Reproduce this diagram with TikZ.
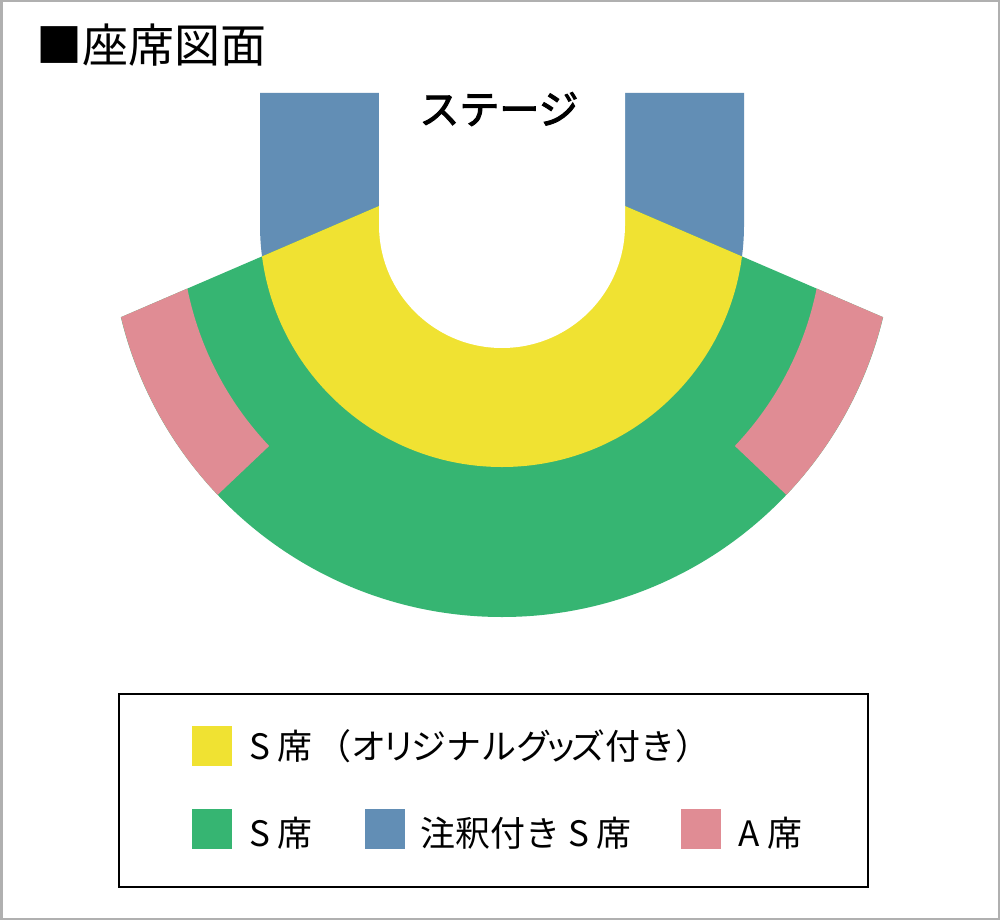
\documentclass[tikz,border=0pt]{standalone}
\usepackage{fontspec}
\setmainfont{Noto Sans CJK JP}
\newfontfamily\stagefont[FakeBold=2.5]{Noto Sans CJK JP}
\usetikzlibrary{calc}
\definecolor{seatY}{RGB}{240,226,50}
\definecolor{seatG}{RGB}{54,181,114}
\definecolor{seatB}{RGB}{98,142,181}
\definecolor{seatP}{RGB}{224,140,148}
\definecolor{frameGray}{RGB}{176,176,176}
\tikzset{
  legsq/.style={minimum width=40pt,minimum height=40pt,inner sep=0pt,outer sep=0pt,anchor=north west},
  legtxt/.style={anchor=base west,inner sep=0pt,font=\fontsize{35}{40}\selectfont},
}
\begin{document}
\begin{tikzpicture}[x=1pt,y=1pt]
\useasboundingbox (0,0) rectangle (1000,-920);
\fill[white] (0,0) rectangle (1000,-920);
\draw[frameGray,line width=2.5pt] (1.25,-1.25) rectangle (998.75,-918.75);
\coordinate (C) at (502,-225);
% blue (notes) seats: U-shaped outer outline
\fill[seatB] (260,-93) -- (260,-225) arc[start angle=180,end angle=360,radius=242pt] -- (744,-93) -- cycle;
\begin{scope}
  \clip (0,-369.3) -- (502,-153) -- (1000,-367.6) -- (1000,-920) -- (0,-920) -- cycle;
  \fill[seatG] (C) circle[radius=392pt];
  \fill[seatP] ($(C)+(160:321)$) arc[start angle=160,end angle=223.5,radius=321pt]
     -- ($(C)+(223.5:392)$) arc[start angle=223.5,end angle=160,radius=392pt] -- cycle;
  \fill[seatP] ($(C)+(20:321)$) arc[start angle=20,end angle=-43.5,radius=321pt]
     -- ($(C)+(-43.5:392)$) arc[start angle=-43.5,end angle=20,radius=392pt] -- cycle;
  \fill[seatY] (260,-93) -- (260,-225) arc[start angle=180,end angle=360,radius=242pt] -- (744,-93) -- cycle;
\end{scope}
% stage opening
\fill[white] (379,-80) -- (379,-225) arc[start angle=180,end angle=360,radius=123pt] -- (625,-80) -- cycle;
% texts
\node (title) [anchor=base west,inner sep=0pt,font=\fontsize{46}{50}\selectfont] at (36,-63) {■座席図面};
\node (stage) [anchor=base,inner sep=0pt,font=\stagefont\fontsize{40}{44}\selectfont] at (499,-124) {ステージ};
% legend
\node (legend) [draw,line width=2pt,minimum width=749pt,minimum height=193pt,inner sep=0pt,anchor=north west] at (118,-693) {};
\node (sqY) [legsq,fill=seatY] at (192,-726) {};
\node (sqG) [legsq,fill=seatG] at (192,-809) {};
\node (sqB) [legsq,fill=seatB] at (365,-809) {};
\node (sqP) [legsq,fill=seatP] at (681,-809) {};
\node (tY) [legtxt] at (249,-759) {S 席\kern4pt（オ\kern-5ptリ\kern-5ptジナルグ\kern-8ptッ\kern-8ptズ付き）};
\node (tG) [legtxt] at (249,-846) {S 席};
\node (tB) [legtxt] at (420,-846) {注釈付き S 席};
\node (tP) [legtxt] at (738,-846) {A 席};
\end{tikzpicture}
\end{document}
